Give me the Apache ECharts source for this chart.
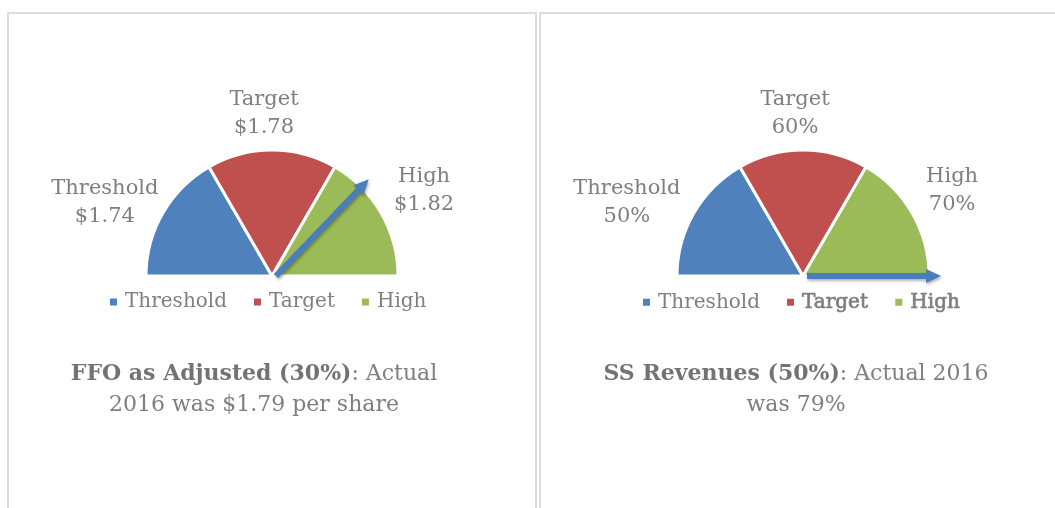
<!DOCTYPE html>
<html>
<head>
<meta charset="utf-8">
<script src="https://cdn.jsdelivr.net/npm/echarts@6/dist/echarts.min.js"></script>
<style>
  html, body { margin: 0; padding: 0; background: #fff; }
  body { width: 1055px; height: 508px; position: relative; overflow: hidden; }
  .frame { position: absolute; top: 12px; height: 520px; border: 2px solid #dcdcdc; border-bottom: none; box-sizing: border-box; }
  #frame1 { left: 7px; width: 530px; }
  #frame2 { left: 539px; width: 540px; }
  .chart { position: absolute; top: 0; height: 508px; }
  #chart-ffo { left: 0; width: 538px; }
  #chart-ss { left: 538px; width: 517px; }
</style>
</head>
<body>
<div class="frame" id="frame1"></div>
<div class="frame" id="frame2"></div>
<div class="chart" id="chart-ffo"></div>
<div class="chart" id="chart-ss"></div>
<script>
var categories = ['Threshold', 'Target', 'High'];
var ffoLevels = ['$1.74', '$1.78', '$1.82'];
var ssLevels = ['50%', '60%', '70%'];
var bandShare = [1, 1, 1];      // the dial is cut in three equal bands
var ffoPointer = 2.23;          // where the arrow points, counted in bands from the left
var ssPointer = 3;
var ffoCaption = ['FFO as Adjusted (30%)', ': Actual', '2016 was $1.79 per share'];
var ssCaption = ['SS Revenues (50%)', ': Actual 2016', 'was 79%'];

var colors = ['#4f81bd', '#c0504d', '#9bbb59'];
var ink = '#7f7f7f';
var serif = '"DejaVu Serif", serif';

function dialOption(levels, pointer, caption, opts) {
  var total = bandShare.reduce(function (a, b) { return a + b; }, 0);
  var slices = categories.map(function (name, i) {
    return { name: name, value: bandShare[i], level: levels[i] };
  });
  // lower half of the circle, left blank
  slices.push({
    name: '', value: total,
    itemStyle: { color: 'none', borderWidth: 0 },
    label: { show: false }, labelLine: { show: false },
    emphasis: { disabled: true }
  });

  var legendData = categories.map(function (name, i) {
    var item = { name: name };
    if (opts.heavy && i > 0) {
      item.textStyle = { textBorderColor: ink, textBorderWidth: 0.7 };
    }
    return item;
  });

  return {
    animation: false,
    color: colors,
    title: {
      text: '{b|' + caption[0] + '}' + caption[1] + '\n' + caption[2],
      left: opts.capX,
      top: 354,
      textAlign: 'center',
      textStyle: {
        color: ink, fontSize: 22, fontFamily: serif, fontWeight: 'normal', lineHeight: 31,
        rich: { b: { color: '#737373', fontSize: 22, fontFamily: serif, fontWeight: 'bold', lineHeight: 31 } }
      }
    },
    legend: {
      data: legendData,
      top: 287,
      left: opts.legendX,
      icon: 'rect',
      itemWidth: 9,
      itemHeight: 9,
      itemGap: 25,
      selectedMode: false,
      textStyle: { color: ink, fontSize: 20, fontFamily: serif, padding: [0, 0, 0, 2] }
    },
    series: [
      {
        type: 'pie',
        z: 2,
        center: [opts.cx, 276],
        radius: 126,
        startAngle: 180,
        clockwise: true,
        silent: true,
        avoidLabelOverlap: false,
        data: slices,
        itemStyle: { borderColor: '#fff', borderWidth: 3 },
        label: {
          position: 'outside',
          color: ink,
          fontSize: 21,
          lineHeight: 28,
          fontFamily: serif,
          formatter: function (p) { return p.name + '\n' + p.data.level; }
        },
        labelLine: { show: false, length: 0, length2: 0 },
        labelLayout: function (p) {
          var s = opts.shift[p.dataIndex] || [0, 0];
          return { align: 'center', dx: s[0], dy: s[1] };
        }
      },
      {
        type: 'gauge',
        z: 10,
        center: [opts.cx + 4, 276],
        radius: 134,
        startAngle: 180,
        endAngle: 0,
        min: 0,
        max: total,
        silent: true,
        axisLine: { show: false },
        axisTick: { show: false },
        splitLine: { show: false },
        axisLabel: { show: false },
        anchor: { show: false },
        title: { show: false },
        detail: { show: false },
        pointer: {
          icon: 'path://M7,0 L14,15 L10,15 L10,134 L4,134 L4,15 L0,15 Z',
          length: '100%',
          width: 14,
          itemStyle: {
            color: '#4a7ebb',
            shadowColor: 'rgba(0,0,0,0.3)',
            shadowBlur: 3,
            shadowOffsetX: 1,
            shadowOffsetY: 2
          }
        },
        data: [{ value: pointer }]
      }
    ]
  };
}

var chart1 = echarts.init(document.getElementById('chart-ffo'), null, { renderer: 'canvas' });
chart1.setOption(dialOption(ffoLevels, ffoPointer, ffoCaption, {
  cx: 272, capX: 249, legendX: 103, shift: [[-53, -10], [-3, -36], [38, -22]]
}));

var chart2 = echarts.init(document.getElementById('chart-ss'), null, { renderer: 'canvas' });
chart2.setOption(dialOption(ssLevels, ssPointer, ssCaption, {
  cx: 265, capX: 253, legendX: 98, heavy: true, shift: [[-62, -10], [-3, -36], [35, -22]]
}));

window.addEventListener('resize', function () { chart1.resize(); chart2.resize(); });
</script>
</body>
</html>
